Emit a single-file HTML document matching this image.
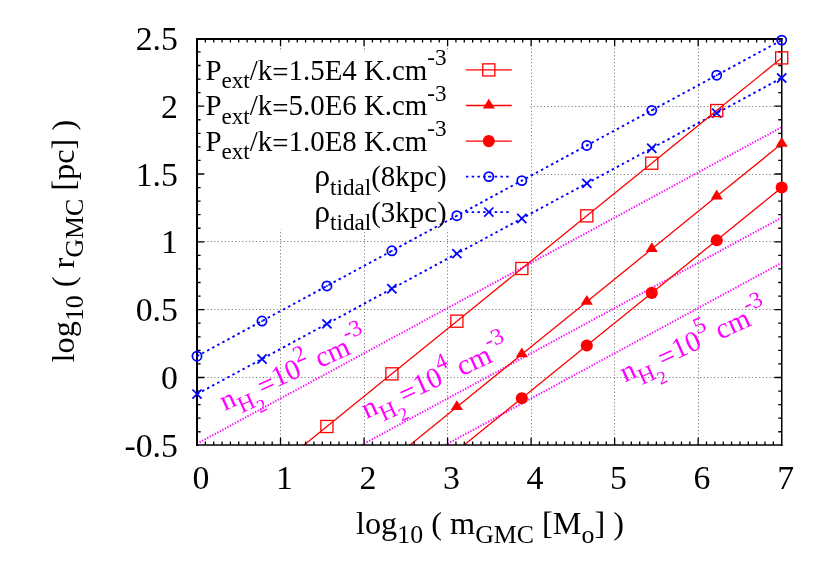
<!DOCTYPE html>
<html><head><meta charset="utf-8"><title>plot</title>
<style>html,body{margin:0;padding:0;background:#fff;}svg{display:block;will-change:transform;}text{font-family:"Liberation Serif",serif;}</style></head><body>
<svg width="830" height="581" viewBox="0 0 830 581">
<rect x="0" y="0" width="830" height="581" fill="#fff"/>
<g stroke="#000" stroke-width="1" stroke-dasharray="1.15 2.32" fill="none" opacity="0.52">
<path d="M280.50 445.00V39.00"/>
<path d="M364.50 445.00V39.00"/>
<path d="M447.50 445.00V39.00"/>
<path d="M531.50 445.00V39.00"/>
<path d="M614.50 445.00V39.00"/>
<path d="M698.50 445.00V39.00"/>
<path d="M197.00 377.50H781.70"/>
<path d="M197.00 309.50H781.70"/>
<path d="M197.00 241.50H781.70"/>
<path d="M197.00 174.50H781.70"/>
<path d="M197.00 106.50H781.70"/>
</g>
<rect x="197.00" y="52.0" width="333.30" height="177.6" fill="#fff"/>
<defs><clipPath id="c"><rect x="197.00" y="39.00" width="584.80" height="406.00"/></clipPath></defs>
<g clip-path="url(#c)" fill="none">
<g stroke="#f0f" stroke-width="2.0" stroke-dasharray="1.3 1.57">
<path d="M192.00 446.41L781.70 127.18"/>
<path d="M359.06 446.41L781.70 217.62"/>
<path d="M442.59 446.41L781.70 262.83"/>
</g>
<g stroke="#00f" stroke-width="1.9" stroke-dasharray="2.5 3.25">
<path d="M197.00 356.20L261.97 321.08L326.93 285.96L391.90 250.84L456.87 215.72L521.83 180.60L586.80 145.48L651.77 110.36L716.73 75.24L781.70 40.12"/>
<path d="M197.00 394.10L261.97 358.98L326.93 323.86L391.90 288.74L456.87 253.62L521.83 218.50L586.80 183.38L651.77 148.26L716.73 113.14L781.70 78.02"/>
</g>
<g stroke="#f00" stroke-width="1.30">
<path d="M261.97 479.16L326.93 426.50L391.90 373.84L456.87 321.18L521.83 268.52L586.80 215.86L651.77 163.20L716.73 110.54L781.70 57.88"/>
<path d="M391.90 459.66L456.87 407.00L521.83 354.34L586.80 301.68L651.77 249.02L716.73 196.36L781.70 143.70"/>
<path d="M456.87 450.86L521.83 398.20L586.80 345.54L651.77 292.88L716.73 240.22L781.70 187.56"/>
</g>
</g>
<g fill="none">
<path d="M465.90 69.90H511.80" stroke="#f00" stroke-width="1.30"/>
<path d="M465.90 105.50H511.80" stroke="#f00" stroke-width="1.30"/>
<path d="M465.90 141.10H511.80" stroke="#f00" stroke-width="1.30"/>
<path d="M465.90 176.60H511.80" stroke="#00f" stroke-width="1.9" stroke-dasharray="2.5 3.25"/>
<path d="M465.90 212.10H511.80" stroke="#00f" stroke-width="1.9" stroke-dasharray="2.5 3.25"/>
</g>
<g stroke="#000" stroke-width="1.30" fill="none" stroke-linecap="butt">
<path d="M197 38V446" stroke-width="2"/><path d="M196 38.95H782.5" stroke-width="2.0"/><path d="M196 445H782.5" stroke-width="1.7"/><path d="M781.75 38V446" stroke-width="1.5"/>
<path d="M205.35 445.00v-3.60M205.35 39.00v3.60M213.71 445.00v-3.60M213.71 39.00v3.60M222.06 445.00v-3.60M222.06 39.00v3.60M230.41 445.00v-3.60M230.41 39.00v3.60M238.76 445.00v-3.60M238.76 39.00v3.60M247.12 445.00v-3.60M247.12 39.00v3.60M255.47 445.00v-3.60M255.47 39.00v3.60M263.82 445.00v-3.60M263.82 39.00v3.60M272.18 445.00v-3.60M272.18 39.00v3.60M280.53 445.00v-7.30M280.53 39.00v7.30M288.88 445.00v-3.60M288.88 39.00v3.60M297.23 445.00v-3.60M297.23 39.00v3.60M305.59 445.00v-3.60M305.59 39.00v3.60M313.94 445.00v-3.60M313.94 39.00v3.60M322.29 445.00v-3.60M322.29 39.00v3.60M330.65 445.00v-3.60M330.65 39.00v3.60M339.00 445.00v-3.60M339.00 39.00v3.60M347.35 445.00v-3.60M347.35 39.00v3.60M355.70 445.00v-3.60M355.70 39.00v3.60M364.06 445.00v-7.30M364.06 39.00v7.30M372.41 445.00v-3.60M372.41 39.00v3.60M380.76 445.00v-3.60M380.76 39.00v3.60M389.12 445.00v-3.60M389.12 39.00v3.60M397.47 445.00v-3.60M397.47 39.00v3.60M405.82 445.00v-3.60M405.82 39.00v3.60M414.17 445.00v-3.60M414.17 39.00v3.60M422.53 445.00v-3.60M422.53 39.00v3.60M430.88 445.00v-3.60M430.88 39.00v3.60M439.23 445.00v-3.60M439.23 39.00v3.60M447.59 445.00v-7.30M447.59 39.00v7.30M455.94 445.00v-3.60M455.94 39.00v3.60M464.29 445.00v-3.60M464.29 39.00v3.60M472.64 445.00v-3.60M472.64 39.00v3.60M481.00 445.00v-3.60M481.00 39.00v3.60M489.35 445.00v-3.60M489.35 39.00v3.60M497.70 445.00v-3.60M497.70 39.00v3.60M506.06 445.00v-3.60M506.06 39.00v3.60M514.41 445.00v-3.60M514.41 39.00v3.60M522.76 445.00v-3.60M522.76 39.00v3.60M531.11 445.00v-7.30M531.11 39.00v7.30M539.47 445.00v-3.60M539.47 39.00v3.60M547.82 445.00v-3.60M547.82 39.00v3.60M556.17 445.00v-3.60M556.17 39.00v3.60M564.53 445.00v-3.60M564.53 39.00v3.60M572.88 445.00v-3.60M572.88 39.00v3.60M581.23 445.00v-3.60M581.23 39.00v3.60M589.58 445.00v-3.60M589.58 39.00v3.60M597.94 445.00v-3.60M597.94 39.00v3.60M606.29 445.00v-3.60M606.29 39.00v3.60M614.64 445.00v-7.30M614.64 39.00v7.30M623.00 445.00v-3.60M623.00 39.00v3.60M631.35 445.00v-3.60M631.35 39.00v3.60M639.70 445.00v-3.60M639.70 39.00v3.60M648.05 445.00v-3.60M648.05 39.00v3.60M656.41 445.00v-3.60M656.41 39.00v3.60M664.76 445.00v-3.60M664.76 39.00v3.60M673.11 445.00v-3.60M673.11 39.00v3.60M681.47 445.00v-3.60M681.47 39.00v3.60M689.82 445.00v-3.60M689.82 39.00v3.60M698.17 445.00v-7.30M698.17 39.00v7.30M706.52 445.00v-3.60M706.52 39.00v3.60M714.88 445.00v-3.60M714.88 39.00v3.60M723.23 445.00v-3.60M723.23 39.00v3.60M731.58 445.00v-3.60M731.58 39.00v3.60M739.94 445.00v-3.60M739.94 39.00v3.60M748.29 445.00v-3.60M748.29 39.00v3.60M756.64 445.00v-3.60M756.64 39.00v3.60M764.99 445.00v-3.60M764.99 39.00v3.60M773.35 445.00v-3.60M773.35 39.00v3.60M197.00 431.74h3.60M781.80 431.74h-3.60M197.00 418.17h3.60M781.80 418.17h-3.60M197.00 404.61h3.60M781.80 404.61h-3.60M197.00 391.04h3.60M781.80 391.04h-3.60M197.00 377.48h7.30M781.80 377.48h-7.30M197.00 363.91h3.60M781.80 363.91h-3.60M197.00 350.35h3.60M781.80 350.35h-3.60M197.00 336.78h3.60M781.80 336.78h-3.60M197.00 323.22h3.60M781.80 323.22h-3.60M197.00 309.65h7.30M781.80 309.65h-7.30M197.00 296.08h3.60M781.80 296.08h-3.60M197.00 282.52h3.60M781.80 282.52h-3.60M197.00 268.95h3.60M781.80 268.95h-3.60M197.00 255.39h3.60M781.80 255.39h-3.60M197.00 241.82h7.30M781.80 241.82h-7.30M197.00 228.26h3.60M781.80 228.26h-3.60M197.00 214.70h3.60M781.80 214.70h-3.60M197.00 201.13h3.60M781.80 201.13h-3.60M197.00 187.56h3.60M781.80 187.56h-3.60M197.00 174.00h7.30M781.80 174.00h-7.30M197.00 160.44h3.60M781.80 160.44h-3.60M197.00 146.87h3.60M781.80 146.87h-3.60M197.00 133.31h3.60M781.80 133.31h-3.60M197.00 119.74h3.60M781.80 119.74h-3.60M197.00 106.18h7.30M781.80 106.18h-7.30M197.00 92.61h3.60M781.80 92.61h-3.60M197.00 79.04h3.60M781.80 79.04h-3.60M197.00 65.48h3.60M781.80 65.48h-3.60M197.00 51.92h3.60M781.80 51.92h-3.60"/>
</g>
<circle cx="197.00" cy="356.20" r="4.60" fill="none" stroke="#00f" stroke-width="1.75"/><circle cx="197.00" cy="356.20" r="0.9" fill="#00f"/>
<path d="M192.40 389.50L201.60 398.70M192.40 398.70L201.60 389.50" stroke="#00f" stroke-width="1.75" fill="none"/>
<circle cx="261.97" cy="321.08" r="4.60" fill="none" stroke="#00f" stroke-width="1.75"/><circle cx="261.97" cy="321.08" r="0.9" fill="#00f"/>
<path d="M257.37 354.38L266.57 363.58M257.37 363.58L266.57 354.38" stroke="#00f" stroke-width="1.75" fill="none"/>
<circle cx="326.93" cy="285.96" r="4.60" fill="none" stroke="#00f" stroke-width="1.75"/><circle cx="326.93" cy="285.96" r="0.9" fill="#00f"/>
<path d="M322.33 319.26L331.53 328.46M322.33 328.46L331.53 319.26" stroke="#00f" stroke-width="1.75" fill="none"/>
<circle cx="391.90" cy="250.84" r="4.60" fill="none" stroke="#00f" stroke-width="1.75"/><circle cx="391.90" cy="250.84" r="0.9" fill="#00f"/>
<path d="M387.30 284.14L396.50 293.34M387.30 293.34L396.50 284.14" stroke="#00f" stroke-width="1.75" fill="none"/>
<circle cx="456.87" cy="215.72" r="4.60" fill="none" stroke="#00f" stroke-width="1.75"/><circle cx="456.87" cy="215.72" r="0.9" fill="#00f"/>
<path d="M452.27 249.02L461.47 258.22M452.27 258.22L461.47 249.02" stroke="#00f" stroke-width="1.75" fill="none"/>
<circle cx="521.83" cy="180.60" r="4.60" fill="none" stroke="#00f" stroke-width="1.75"/><circle cx="521.83" cy="180.60" r="0.9" fill="#00f"/>
<path d="M517.23 213.90L526.43 223.10M517.23 223.10L526.43 213.90" stroke="#00f" stroke-width="1.75" fill="none"/>
<circle cx="586.80" cy="145.48" r="4.60" fill="none" stroke="#00f" stroke-width="1.75"/><circle cx="586.80" cy="145.48" r="0.9" fill="#00f"/>
<path d="M582.20 178.78L591.40 187.98M582.20 187.98L591.40 178.78" stroke="#00f" stroke-width="1.75" fill="none"/>
<circle cx="651.77" cy="110.36" r="4.60" fill="none" stroke="#00f" stroke-width="1.75"/><circle cx="651.77" cy="110.36" r="0.9" fill="#00f"/>
<path d="M647.17 143.66L656.37 152.86M647.17 152.86L656.37 143.66" stroke="#00f" stroke-width="1.75" fill="none"/>
<circle cx="716.73" cy="75.24" r="4.60" fill="none" stroke="#00f" stroke-width="1.75"/><circle cx="716.73" cy="75.24" r="0.9" fill="#00f"/>
<path d="M712.13 108.54L721.33 117.74M712.13 117.74L721.33 108.54" stroke="#00f" stroke-width="1.75" fill="none"/>
<circle cx="781.70" cy="40.12" r="4.60" fill="none" stroke="#00f" stroke-width="1.75"/><circle cx="781.70" cy="40.12" r="0.9" fill="#00f"/>
<path d="M777.10 73.42L786.30 82.62M777.10 82.62L786.30 73.42" stroke="#00f" stroke-width="1.75" fill="none"/>
<rect x="320.88" y="420.45" width="12.10" height="12.10" fill="none" stroke="#f00" stroke-width="1.30"/>
<rect x="385.85" y="367.79" width="12.10" height="12.10" fill="none" stroke="#f00" stroke-width="1.30"/>
<rect x="450.82" y="315.13" width="12.10" height="12.10" fill="none" stroke="#f00" stroke-width="1.30"/>
<rect x="515.78" y="262.47" width="12.10" height="12.10" fill="none" stroke="#f00" stroke-width="1.30"/>
<rect x="580.75" y="209.81" width="12.10" height="12.10" fill="none" stroke="#f00" stroke-width="1.30"/>
<rect x="645.72" y="157.15" width="12.10" height="12.10" fill="none" stroke="#f00" stroke-width="1.30"/>
<rect x="710.68" y="104.49" width="12.10" height="12.10" fill="none" stroke="#f00" stroke-width="1.30"/>
<rect x="775.65" y="51.83" width="12.10" height="12.10" fill="none" stroke="#f00" stroke-width="1.30"/>
<path d="M456.87 400.22L450.82 410.02L462.92 410.02Z" fill="#f00"/>
<path d="M521.83 347.56L515.78 357.37L527.88 357.37Z" fill="#f00"/>
<path d="M586.80 294.90L580.75 304.70L592.85 304.70Z" fill="#f00"/>
<path d="M651.77 242.24L645.72 252.05L657.82 252.05Z" fill="#f00"/>
<path d="M716.73 189.58L710.68 199.39L722.78 199.39Z" fill="#f00"/>
<path d="M781.70 136.92L775.65 146.73L787.75 146.73Z" fill="#f00"/>
<circle cx="521.83" cy="398.20" r="6.05" fill="#f00"/>
<circle cx="586.80" cy="345.54" r="6.05" fill="#f00"/>
<circle cx="651.77" cy="292.88" r="6.05" fill="#f00"/>
<circle cx="716.73" cy="240.22" r="6.05" fill="#f00"/>
<circle cx="781.70" cy="187.56" r="6.05" fill="#f00"/>
<rect x="482.75" y="63.85" width="12.10" height="12.10" fill="none" stroke="#f00" stroke-width="1.30"/>
<path d="M488.80 98.72L482.75 108.53L494.85 108.53Z" fill="#f00"/>
<circle cx="488.80" cy="141.10" r="6.05" fill="#f00"/>
<circle cx="488.80" cy="176.60" r="4.60" fill="none" stroke="#00f" stroke-width="1.75"/><circle cx="488.80" cy="176.60" r="0.9" fill="#00f"/>
<path d="M484.20 207.50L493.40 216.70M484.20 216.70L493.40 207.50" stroke="#00f" stroke-width="1.75" fill="none"/>
<text x="177.9" y="49.85" font-size="33.8" text-anchor="end">2.5</text>
<text x="177.9" y="117.68" font-size="33.8" text-anchor="end">2</text>
<text x="177.9" y="185.50" font-size="33.8" text-anchor="end">1.5</text>
<text x="177.9" y="253.32" font-size="33.8" text-anchor="end">1</text>
<text x="177.9" y="321.15" font-size="33.8" text-anchor="end">0.5</text>
<text x="177.9" y="388.98" font-size="33.8" text-anchor="end">0</text>
<text x="177.9" y="456.80" font-size="33.8" text-anchor="end">-0.5</text>
<text x="200.90" y="488.5" font-size="33.8" text-anchor="middle">0</text>
<text x="284.43" y="488.5" font-size="33.8" text-anchor="middle">1</text>
<text x="367.96" y="488.5" font-size="33.8" text-anchor="middle">2</text>
<text x="451.49" y="488.5" font-size="33.8" text-anchor="middle">3</text>
<text x="535.01" y="488.5" font-size="33.8" text-anchor="middle">4</text>
<text x="618.54" y="488.5" font-size="33.8" text-anchor="middle">5</text>
<text x="702.07" y="488.5" font-size="33.8" text-anchor="middle">6</text>
<text x="785.60" y="488.5" font-size="33.8" text-anchor="middle">7</text>
<text x="356" y="534" font-size="32.3"><tspan font-size="32.30" dy="0.00">log</tspan><tspan font-size="25.84" dy="9.30">10</tspan><tspan font-size="32.30" dy="-9.30"> ( m</tspan><tspan font-size="25.84" dy="9.30">GMC</tspan><tspan font-size="32.30" dy="-9.30"> [M</tspan><tspan font-size="25.84" dy="9.30">o</tspan><tspan font-size="32.30" dy="-9.30">] )</tspan></text>
<text transform="translate(73.8,362.4) rotate(-90)" font-size="32.3"><tspan font-size="32.30" dy="0.00">log</tspan><tspan font-size="25.84" dy="9.30">10</tspan><tspan font-size="32.30" dy="-9.30"> ( r</tspan><tspan font-size="25.84" dy="9.30">GMC</tspan><tspan font-size="32.30" dy="-9.30"> [pc] )</tspan></text>
<text x="446.6" y="79.50" font-size="28.9" text-anchor="end"><tspan font-size="28.90" dy="0.00">P</tspan><tspan font-size="23.12" dy="8.40">ext</tspan><tspan font-size="28.90" dy="-8.40">/k</tspan><tspan font-size="28.90" dy="2.46">=</tspan><tspan font-size="28.90" dy="-2.46">1.5E4 K.cm</tspan><tspan font-size="23.12" dy="-14.30">-3</tspan></text>
<text x="446.6" y="115.10" font-size="28.9" text-anchor="end"><tspan font-size="28.90" dy="0.00">P</tspan><tspan font-size="23.12" dy="8.40">ext</tspan><tspan font-size="28.90" dy="-8.40">/k</tspan><tspan font-size="28.90" dy="2.46">=</tspan><tspan font-size="28.90" dy="-2.46">5.0E6 K.cm</tspan><tspan font-size="23.12" dy="-14.30">-3</tspan></text>
<text x="446.6" y="150.70" font-size="28.9" text-anchor="end"><tspan font-size="28.90" dy="0.00">P</tspan><tspan font-size="23.12" dy="8.40">ext</tspan><tspan font-size="28.90" dy="-8.40">/k</tspan><tspan font-size="28.90" dy="2.46">=</tspan><tspan font-size="28.90" dy="-2.46">1.0E8 K.cm</tspan><tspan font-size="23.12" dy="-14.30">-3</tspan></text>
<text x="446.6" y="186.20" font-size="28.9" text-anchor="end"><tspan font-size="31.79" dy="0.00">ρ</tspan><tspan font-size="23.12" dy="8.40">tidal</tspan><tspan font-size="28.90" dy="-8.40">(8kpc)</tspan></text>
<text x="446.6" y="221.70" font-size="28.9" text-anchor="end"><tspan font-size="31.79" dy="0.00">ρ</tspan><tspan font-size="23.12" dy="8.40">tidal</tspan><tspan font-size="28.90" dy="-8.40">(3kpc)</tspan></text>
<text transform="translate(224.80,410.90) rotate(-24.30)" font-size="28.9" fill="#f0f"><tspan font-size="28.90" dy="0.00">n</tspan><tspan font-size="23.12" dy="9.10">H</tspan><tspan font-size="18.50" dy="7.63">2</tspan><tspan font-size="28.90" dy="-14.27">=</tspan><tspan font-size="28.90" dy="-2.46">10</tspan><tspan font-size="23.12" dy="-14.00">2</tspan><tspan font-size="28.90" dy="14.00"> cm</tspan><tspan font-size="23.12" dy="-14.00">-3</tspan></text>
<text transform="translate(366.50,419.10) rotate(-24.30)" font-size="28.9" fill="#f0f"><tspan font-size="28.90" dy="0.00">n</tspan><tspan font-size="23.12" dy="9.10">H</tspan><tspan font-size="18.50" dy="7.63">2</tspan><tspan font-size="28.90" dy="-14.27">=</tspan><tspan font-size="28.90" dy="-2.46">10</tspan><tspan font-size="23.12" dy="-14.00">4</tspan><tspan font-size="28.90" dy="14.00"> cm</tspan><tspan font-size="23.12" dy="-14.00">-3</tspan></text>
<text transform="translate(625.10,382.60) rotate(-24.30)" font-size="28.9" fill="#f0f"><tspan font-size="28.90" dy="0.00">n</tspan><tspan font-size="23.12" dy="9.10">H</tspan><tspan font-size="18.50" dy="7.63">2</tspan><tspan font-size="28.90" dy="-14.27">=</tspan><tspan font-size="28.90" dy="-2.46">10</tspan><tspan font-size="23.12" dy="-14.00">5</tspan><tspan font-size="28.90" dy="14.00"> cm</tspan><tspan font-size="23.12" dy="-14.00">-3</tspan></text>
</svg></body></html>
